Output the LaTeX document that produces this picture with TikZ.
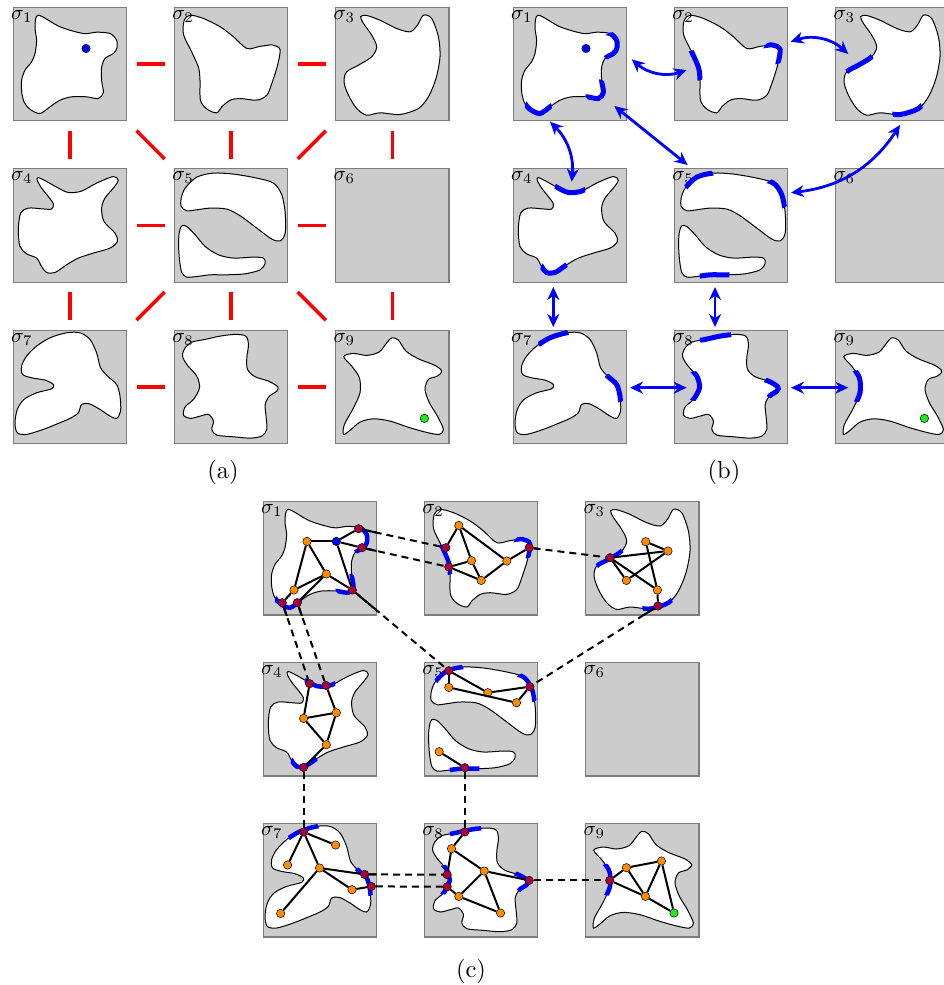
\documentclass[tikz,border=0pt]{standalone}
\usetikzlibrary{arrows.meta}
\definecolor{nred}{RGB}{170,0,62}
\definecolor{norange}{RGB}{255,140,0}
\definecolor{ngreen}{RGB}{30,235,30}
\definecolor{boxgray}{RGB}{204,204,204}
\definecolor{boxedge}{RGB}{125,125,125}
\tikzset{
  cellbox/.style={rectangle, draw=boxedge, fill=boxgray, line width=1.1pt, minimum size=113.3pt, inner sep=0pt, outer sep=0pt, anchor=north west},
  blob/.style={draw=black, line width=1pt, fill=white},
  redlink/.style={draw=red, line width=3.5pt},
  bluearc/.style={draw=blue, line width=5pt},
  bluearrow/.style={draw=blue, line width=2.8pt, arrows={Stealth[length=13pt,width=12pt]-Stealth[length=13pt,width=12pt]}},
  gedge/.style={draw=black, line width=2pt},
  dlink/.style={draw=black, line width=2pt, dash pattern=on 7pt off 5pt},
  vtx/.style={circle, draw=black, line width=0.5pt, inner sep=0pt, minimum size=8.4pt},
  ov/.style={vtx, fill=norange},
  rv/.style={vtx, fill=nred},
  bv/.style={vtx, fill=blue},
  gv/.style={vtx, fill=ngreen},
  sig/.style={anchor=base west, inner sep=0pt, scale=2.1},
  capt/.style={inner sep=0pt, scale=2.45},
}
\def\blobOne{plot[smooth cycle] coordinates {(25,7.7) (46.7,19.3) (70,26) (83.3,24.7) (96.7,26) (103.3,32.7) (103.5,41) (100,46) (91.7,51) (88.3,60) (88.3,72.7) (90,85) (85,91) (73,89.3) (58.3,89.3) (46.7,92.7) (36.7,99.3) (26.7,106) (17,102) (11,95) (8.3,84) (8.3,72.7) (11.7,62.7) (18.3,54.3) (21.7,46) (23.3,32.7) (21.7,19.3)}}
\def\blobTwo{plot[smooth cycle] coordinates {(15.7,7.7) (29,11) (45.7,19.3) (59,29.3) (72.3,41) (85,39) (98,37.5) (105.5,42) (103,58) (97.3,76) (92.3,87.7) (82.3,92.7) (65.7,91) (55.7,92.7) (47.3,99.3) (42.3,105.3) (33,102) (26,93) (25.5,72.7) (24,60) (17,44) (9,27) (9.7,12.7)}}
\def\blobThree{plot[smooth cycle] coordinates {(31,8) (44.3,12.7) (61,21) (74.3,24.3) (81.7,17.7) (87.7,7.7) (96,11) (102.7,29.3) (104.3,49.3) (100.3,71) (92.7,89.3) (82.7,101) (64.3,107) (44.3,105.3) (31,107.7) (21,101) (12.7,87.7) (8.3,74.3) (11,64.3) (22.7,57.7) (36,49.3) (41,39.3) (36,27.7) (27.5,15.5) (25,9)}}
\def\blobFour{plot[smooth cycle] coordinates {(25,8.7) (33.3,12.7) (43.3,18.3) (55,23.7) (68.3,22.3) (83.3,14.3) (100,7.7) (105,11.7) (100,19.3) (91.7,29.3) (88.3,39.3) (90.7,52.7) (101.7,64.3) (104,72.7) (96.7,79.3) (80,84.3) (65,89.3) (53.3,96) (41.7,103.7) (33.3,103.7) (28.3,97.7) (23.3,89.3) (13.3,85) (6.7,77.7) (5,61) (7.3,44.3) (15,39.3) (28.3,40) (38.3,40.3) (40,35) (35,27.7) (28.3,19.3) (24,11.7)}}
\def\blobFive{plot[smooth cycle] coordinates {(10.7,19.3) (22.3,8.3) (39,4.3) (59,5.3) (82.3,9.3) (99,14.3) (107.3,26) (110.7,44.3) (110.7,64.3) (105.7,72) (97.3,70.3) (82.3,59.3) (65.7,47) (52.3,40.3) (35.7,39.3) (22.3,41) (12.3,42) (6.7,37.7) (6.7,29.3)}
 plot[smooth cycle] coordinates {(7.3,57) (12.3,57.7) (20.7,66) (30.7,77.7) (44,86) (59,89.3) (79,88.3) (89,89.3) (90.7,94.3) (85.7,101) (70.7,105) (52.3,106) (35.7,106) (22.3,107.7) (12.3,108.3) (7.3,103.7) (5,91) (4,74.3) (5,62.7)}}
\def\blobSeven{plot[smooth cycle] coordinates {(36.7,7.7) (53.3,2.7) (66.7,2.7) (76.7,9.3) (83.3,22.7) (87.3,37.7) (95,46.7) (103.3,54.3) (106.7,66) (107.3,81) (103.3,88.3) (96.7,86) (86.7,79.3) (76,73.7) (68.3,74.3) (65,82.7) (56.7,88.3) (45,93.3) (30,99.3) (13.3,104.3) (4,102.7) (1.7,92.7) (4,79.3) (10.7,69.3) (23.3,62.7) (38.3,58.7) (40,54.3) (31.7,50) (18.3,47.7) (9.3,44.3) (8.3,36) (13.3,26) (23.3,16)}}
\def\blobEight{plot[smooth cycle] coordinates {(10.7,17.7) (17.3,12) (30.7,9.3) (45.7,6) (60.7,4.3) (71.3,6) (74,14.3) (72.3,27.7) (73,39.3) (80.7,46.7) (94,51) (103.3,56.7) (102.3,61) (95,66) (90.7,74.3) (91.7,87.7) (92.3,99.3) (87.3,106) (75.7,108) (59,106.7) (42.3,105) (37.3,99.3) (39,91) (34,84.3) (25.7,86) (15.7,88.3) (9,85) (10.7,76.7) (19,69.3) (25,57.7) (22.3,46) (13,35.3) (8,26)}}
\def\blobNine{plot[smooth cycle] coordinates {(8,26.5) (17.7,23.3) (31,25.3) (43.3,22) (50.3,13.7) (56,7.7) (62.7,10) (70.3,21) (82.7,28.7) (99.3,35.3) (106,41) (101.7,46) (92.7,49.3) (89.3,59.3) (93.7,72.7) (101.7,86) (107.7,99.3) (103.7,104.3) (92.7,102.7) (74.3,97.7) (54.3,91) (37.7,88.7) (24.3,92) (14.3,100.3) (7.7,104.3) (8.7,94.3) (17,79.3) (24.3,62.7) (23.7,47.7) (16,36)}}
\newcommand\barc[4]{\begin{scope}\clip (#1,#2) circle (#3pt);\draw[bluearc] #4;\end{scope}}
\def\arcsOne{\barc{101}{39}{14.5}{\blobOne}\barc{84}{84}{12.5}{\blobOne}\barc{25}{100}{13.5}{\blobOne}}
\def\arcsTwo{\barc{21}{58}{15.5}{\blobTwo}\barc{100}{45}{12}{\blobTwo}}
\def\arcsThree{\barc{24}{57}{15}{\blobThree}\barc{72}{104}{15.5}{\blobThree}}
\def\arcsFour{\barc{56.5}{22}{15.5}{\blobFour}\barc{41}{102}{14}{\blobFour}}
\def\arcsFive{\barc{24}{10}{15.5}{\blobFive}\barc{103}{25}{15.5}{\blobFive}\barc{40}{106}{15}{\blobFive}}
\def\arcsSeven{\barc{40}{8}{16}{\blobSeven}\barc{103}{57}{15.5}{\blobSeven}}
\def\arcsEight{\barc{41}{7}{16}{\blobEight}\barc{22}{56}{15}{\blobEight}\barc{100}{57}{12}{\blobEight}}
\def\arcsNine{\barc{23}{56}{16}{\blobNine}}
% box only
\newcommand\mkcell[3]{\node[cellbox] (#1) at (#2,#3) {};}
% contents: #1 cell, #2 index, #3 blob, #4 overlays (arcs, nodes)
\newcommand\fillcell[4]{%
  \begin{scope}[shift={(#1.north west)}]\draw[blob] #3;\end{scope}
  \node[sig] (#1lab) at ([xshift=-2.5pt,yshift=-12pt]#1.north west) {$\sigma_{#2}$};
  \begin{scope}[shift={(#1.north west)}]#4\end{scope}}
\newcommand\emptycell[2]{\node[sig] (#1lab) at ([xshift=-2.5pt,yshift=-12pt]#1.north west) {$\sigma_{#2}$};}
\newcommand\dlk[3]{\draw[dlink] (#1) -- (#2);
  \begin{scope}\clip (#3.north west) rectangle (#3.south east);\draw[gedge] (#1) -- (#2);\end{scope}}
\begin{document}
\begin{tikzpicture}[x=1pt,y=-1pt]
\useasboundingbox (0,0) rectangle (944,985);
% ---------------- panel (a)
\mkcell{a1}{13.3}{7.5}\mkcell{a2}{174.5}{7.5}\mkcell{a3}{335.7}{7.5}
\mkcell{a4}{13.3}{168.8}\mkcell{a5}{174.5}{168.8}\mkcell{a6}{335.7}{168.8}
\mkcell{a7}{13.3}{330.1}\mkcell{a8}{174.5}{330.1}\mkcell{a9}{335.7}{330.1}
\fillcell{a1}{1}{\blobOne}{\node[bv] (a1dot) at (72.7,41) {};}
\fillcell{a2}{2}{\blobTwo}{}
\fillcell{a3}{3}{\blobThree}{}
\fillcell{a4}{4}{\blobFour}{}
\fillcell{a5}{5}{\blobFive}{}
\emptycell{a6}{6}
\fillcell{a7}{7}{\blobSeven}{}
\fillcell{a8}{8}{\blobEight}{}
\fillcell{a9}{9}{\blobNine}{\node[gv] (a9dot) at (88.7,88.3) {};}
\begin{scope}[redlink, shorten <=10pt, shorten >=10pt]
\draw (a1.east) -- (a2.west); \draw (a2.east) -- (a3.west);
\draw (a4.east) -- (a5.west); \draw (a5.east) -- (a6.west);
\draw (a7.east) -- (a8.west); \draw (a8.east) -- (a9.west);
\draw (a1.south) -- (a4.north); \draw (a2.south) -- (a5.north); \draw (a3.south) -- (a6.north);
\draw (a4.south) -- (a7.north); \draw (a5.south) -- (a8.north); \draw (a6.south) -- (a9.north);
\end{scope}
\begin{scope}[redlink, shorten <=14pt, shorten >=14pt]
\draw (a1.south east) -- (a5.north west); \draw (a3.south west) -- (a5.north east);
\draw (a5.south west) -- (a7.north east); \draw (a5.south east) -- (a9.north west);
\end{scope}
% ---------------- panel (b)
\mkcell{b1}{513.3}{7.5}\mkcell{b2}{674.5}{7.5}\mkcell{b3}{835.7}{7.5}
\mkcell{b4}{513.3}{168.8}\mkcell{b5}{674.5}{168.8}\mkcell{b6}{835.7}{168.8}
\mkcell{b7}{513.3}{330.1}\mkcell{b8}{674.5}{330.1}\mkcell{b9}{835.7}{330.1}
\fillcell{b1}{1}{\blobOne}{\arcsOne \node[bv] (b1dot) at (72.7,41) {};}
\fillcell{b2}{2}{\blobTwo}{\arcsTwo}
\fillcell{b3}{3}{\blobThree}{\arcsThree}
\fillcell{b4}{4}{\blobFour}{\arcsFour}
\fillcell{b5}{5}{\blobFive}{\arcsFive}
\emptycell{b6}{6}
\fillcell{b7}{7}{\blobSeven}{\arcsSeven}
\fillcell{b8}{8}{\blobEight}{\arcsEight}
\fillcell{b9}{9}{\blobNine}{\arcsNine \node[gv] (b9dot) at (88.7,88.3) {};}
\coordinate (p12a) at (631.7,59.3); \coordinate (p12b) at (686.7,70);
\coordinate (p23a) at (790.7,41.7); \coordinate (p23b) at (848.3,54);
\coordinate (p15a) at (614.3,106); \coordinate (p15b) at (687.7,165);
\coordinate (p14a) at (550,121.7); \coordinate (p14b) at (571.7,181.7);
\coordinate (p35a) at (900,125); \coordinate (p35b) at (791,192.7);
\coordinate (p47a) at (553.3,287); \coordinate (p47b) at (553.3,327);
\coordinate (p58a) at (715,287); \coordinate (p58b) at (715,327);
\coordinate (p78a) at (630,387.7); \coordinate (p78b) at (686.7,387.7);
\coordinate (p89a) at (791,387.7); \coordinate (p89b) at (848.3,387.7);
\draw[bluearrow] (p12a) to[bend right=30] (p12b);
\draw[bluearrow] (p23a) to[bend left=30] (p23b);
\draw[bluearrow] (p15a) -- (p15b);
\draw[bluearrow] (p14a) to[bend left=25] (p14b);
\draw[bluearrow] (p35a) to[bend left=25] (p35b);
\draw[bluearrow] (p47a) -- (p47b);
\draw[bluearrow] (p58a) -- (p58b);
\draw[bluearrow] (p78a) -- (p78b);
\draw[bluearrow] (p89a) -- (p89b);
% ---------------- panel (c)
\mkcell{c1}{263.3}{501.7}\mkcell{c2}{424.5}{501.7}\mkcell{c3}{585.7}{501.7}
\mkcell{c4}{263.3}{662.7}\mkcell{c5}{424.5}{662.7}\mkcell{c6}{585.7}{662.7}
\mkcell{c7}{263.3}{823.7}\mkcell{c8}{424.5}{823.7}\mkcell{c9}{585.7}{823.7}
\tikzset{bluearc/.style={draw=blue, line width=4.5pt}}
\fillcell{c1}{1}{\blobOne}{\arcsOne
  \node[ov] (c1A) at (43.7,39.7) {}; \node[bv] (c1B) at (73,39.7) {};
  \node[rv] (c1C) at (95.3,27) {}; \node[rv] (c1D) at (98.7,46) {};
  \node[ov] (c1E) at (63,72.3) {}; \node[ov] (c1F) at (30.7,88.3) {};
  \node[rv] (c1G) at (19,101) {}; \node[rv] (c1H) at (34,101) {};
  \node[rv] (c1I) at (89,88.3) {};}
\fillcell{c2}{2}{\blobTwo}{\arcsTwo
  \node[rv] (c2J) at (21.3,46) {}; \node[rv] (c2K) at (24.3,65.3) {};
  \node[ov] (c2L) at (34.3,23.7) {}; \node[ov] (c2M) at (47,59) {};
  \node[ov] (c2N) at (56.7,78.7) {}; \node[ov] (c2O) at (82.3,59.3) {};
  \node[rv] (c2P) at (104.7,46) {};}
\fillcell{c3}{3}{\blobThree}{\arcsThree
  \node[rv] (c3Q) at (24.3,56) {}; \node[ov] (c3R) at (60,40) {};
  \node[ov] (c3S) at (82.3,49.3) {}; \node[ov] (c3T) at (40.7,78.7) {};
  \node[ov] (c3U) at (71.7,88.3) {}; \node[rv] (c3V) at (72.3,104.3) {};}
\fillcell{c4}{4}{\blobFour}{\arcsFour
  \node[rv] (c4W) at (46.3,21) {}; \node[rv] (c4V) at (62.7,22.7) {};
  \node[ov] (c4X) at (40.3,55.7) {}; \node[ov] (c4Y) at (73,50) {};
  \node[ov] (c4Z) at (63,82) {}; \node[rv] (c4B) at (40.3,104.7) {};}
\fillcell{c5}{5}{\blobFive}{\arcsFive
  \node[rv] (c5a) at (24.3,8) {}; \node[ov] (c5b) at (24.3,24.7) {};
  \node[ov] (c5c) at (63.3,30) {}; \node[rv] (c5d) at (105.3,24) {};
  \node[ov] (c5e) at (92,40) {}; \node[ov] (c5f) at (14.7,89) {};
  \node[rv] (c5g) at (40.3,105) {};}
\emptycell{c6}{6}
\fillcell{c7}{7}{\blobSeven}{\arcsSeven
  \node[rv] (c7h) at (40.3,8.3) {}; \node[ov] (c7i) at (72.3,21.3) {};
  \node[ov] (c7j) at (24.3,41.3) {}; \node[ov] (c7k) at (56.3,44.3) {};
  \node[rv] (c7l) at (101.3,50.7) {}; \node[rv] (c7m) at (108,62.7) {};
  \node[ov] (c7n) at (88.7,66) {}; \node[ov] (c7o) at (17.3,89.7) {};}
\fillcell{c8}{8}{\blobEight}{\arcsEight
  \node[rv] (c8p) at (40.3,8.3) {}; \node[ov] (c8q) at (27,25) {};
  \node[rv] (c8r) at (22.7,51) {}; \node[rv] (c8s) at (22.7,63) {};
  \node[ov] (c8t) at (59.7,47.3) {}; \node[ov] (c8u) at (34.3,72.7) {};
  \node[rv] (c8v) at (104.7,56.7) {}; \node[ov] (c8w) at (76,89.3) {};}
\fillcell{c9}{9}{\blobNine}{\arcsNine
  \node[rv] (c9x) at (24,56.7) {}; \node[ov] (c9y) at (40.7,44) {};
  \node[ov] (c9z) at (75.7,37.3) {}; \node[ov] (c9a) at (59.7,72.7) {};
  \node[gv] (c9b) at (88.3,89.3) {};}
% edges inside cells
\foreach \u/\v in {A/B,B/C,B/D,A/F,A/E,B/I,F/E,E/I,F/G,H/E} \draw[gedge] (c1\u) -- (c1\v);
\foreach \u/\v in {J/L,L/M,L/O,K/M,K/N,M/N,N/O,O/P} \draw[gedge] (c2\u) -- (c2\v);
\foreach \u/\v in {Q/S,Q/T,Q/U,R/S,R/U,T/S,U/V} \draw[gedge] (c3\u) -- (c3\v);
\foreach \u/\v in {W/X,V/Y,X/Y,X/Z,Y/Z,Z/B} \draw[gedge] (c4\u) -- (c4\v);
\foreach \u/\v in {a/b,a/c,c/d,b/e,e/d,f/g} \draw[gedge] (c5\u) -- (c5\v);
\foreach \u/\v in {h/i,h/j,h/k,k/l,k/n,k/o,n/m} \draw[gedge] (c7\u) -- (c7\v);
\foreach \u/\v in {p/q,q/r,q/t,t/v,t/u,t/w,u/w,s/u} \draw[gedge] (c8\u) -- (c8\v);
\foreach \u/\v in {x/y,x/a,y/z,y/a,z/a,z/b,a/b} \draw[gedge] (c9\u) -- (c9\v);
% links between cells
\dlk{c1C}{c2J}{c1}
\dlk{c1D}{c2K}{c1}
\dlk{c2P}{c3Q}{c2}
\dlk{c1I}{c5a}{c1}
\dlk{c3V}{c5d}{c3}
\dlk{c1G}{c4W}{c1}
\dlk{c1H}{c4V}{c1}
\dlk{c4B}{c7h}{c4}
\begin{scope}\clip (c7.north west) rectangle (c7.south east);\draw[gedge] (c4B) -- (c7h);\end{scope}
\dlk{c5g}{c8p}{c5}
\begin{scope}\clip (c8.north west) rectangle (c8.south east);\draw[gedge] (c5g) -- (c8p);\end{scope}
\dlk{c7l}{c8r}{c7}
\dlk{c7m}{c8s}{c7}
\dlk{c8v}{c9x}{c8}
% captions
\node[capt] (capa) at (223,472.5) {(a)};
\node[capt] (capb) at (724,472.5) {(b)};
\node[capt] (capc) at (471,971) {(c)};
\end{tikzpicture}
\end{document}
